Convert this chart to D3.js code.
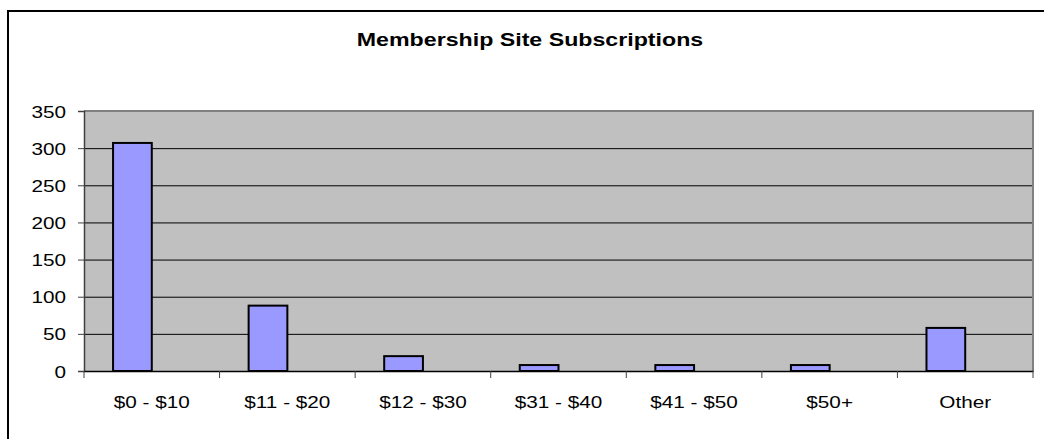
<!DOCTYPE html>
<html>
<head>
<meta charset="utf-8">
<script src="https://cdn.jsdelivr.net/npm/d3@7"></script>
<style>
  body { margin: 0; background: #fff; }
  text { font-family: Arial, "Liberation Sans", sans-serif; fill: #000; }
</style>
</head>
<body>
<div id="chart"></div>
<script>
'use strict'

// data
let categories = ['$0 - $10', '$11 - $20', '$12 - $30', '$31 - $40', '$41 - $50', '$50+', 'Other'];
let seriesNames = ['Subscriptions', 'blank'];
let subscriptions = [307, 88, 20, 8, 8, 8, 58];
let yTicks = [0, 50, 100, 150, 200, 250, 300, 350];
let chartTitle = 'Membership Site Subscriptions';

let W = 1044, H = 439;
let plot = {left: 84, top: 111, right: 1033, bottom: 371};
let sx = 1.22; // the source image is stretched sideways

var svg = d3.select('#chart').append('svg')
    .attr('width', W)
    .attr('height', H);

// outer chart frame, runs off the right and bottom of the picture
svg.append('rect')
    .attr('x', 8).attr('y', 11)
    .attr('width', 1050).attr('height', 440)
    .attr('fill', '#fff')
    .attr('stroke', '#000')
    .attr('stroke-width', 2);

svg.append('text')
    .attr('transform', 'translate(530,46) scale(' + sx + ',1)')
    .attr('text-anchor', 'middle')
    .style('font-size', '19px')
    .style('font-weight', 'bold')
    .text(chartTitle);

var x = d3.scaleBand()
    .domain(categories)
    .range([plot.left, plot.right])
    .padding(0);

// two series per category (second is empty), gap width 150%
var xs = d3.scaleBand()
    .domain(seriesNames)
    .range([0, x.bandwidth()])
    .paddingInner(0)
    .paddingOuter(0.75);

var y = d3.scaleLinear()
    .domain([0, 350])
    .range([plot.bottom, plot.top]);

// plot area
svg.append('rect')
    .attr('x', plot.left).attr('y', plot.top)
    .attr('width', plot.right - plot.left)
    .attr('height', plot.bottom - plot.top)
    .attr('fill', '#c0c0c0');

// gridlines
svg.append('g')
    .selectAll('line')
    .data(yTicks.filter(function(d) { return d > 0 && d < 350; }))
    .enter().append('line')
    .attr('x1', plot.left).attr('x2', plot.right)
    .attr('y1', function(d) { return y(d) + 0.5; })
    .attr('y2', function(d) { return y(d) + 0.5; })
    .attr('stroke', '#000')
    .attr('stroke-width', 1);

// plot border top and right
svg.append('path')
    .attr('d', 'M' + plot.left + ',' + plot.top + 'H' + plot.right + 'V' + plot.bottom)
    .attr('fill', 'none')
    .attr('stroke', '#808080')
    .attr('stroke-width', 2);

// bars
svg.append('g')
    .selectAll('rect')
    .data(subscriptions)
    .enter().append('rect')
    .attr('x', function(d, i) { return x(categories[i]) + xs('Subscriptions'); })
    .attr('y', function(d) { return y(d); })
    .attr('width', xs.bandwidth())
    .attr('height', function(d) { return y(0) - y(d); })
    .attr('fill', '#9999ff')
    .attr('stroke', '#000')
    .attr('stroke-width', 2);

// y axis
var yAxis = svg.append('g')
    .attr('transform', 'translate(' + plot.left + ',0)')
    .call(d3.axisLeft(y).tickValues(yTicks).tickSize(6).tickFormat(d3.format('d')));
yAxis.select('.domain').attr('stroke', '#404040').attr('stroke-width', 1.5);
yAxis.selectAll('.tick line').attr('stroke', '#404040');
yAxis.selectAll('.tick text').remove();
yAxis.selectAll('.tick').append('text')
    .attr('transform', 'translate(-18,0) scale(' + sx + ',1)')
    .attr('dy', '0.36em')
    .attr('text-anchor', 'end')
    .style('font-size', '17px')
    .text(function(d) { return d; });

// x axis
var xAxis = svg.append('g')
    .attr('transform', 'translate(0,' + plot.bottom + ')')
    .call(d3.axisBottom(x).tickSize(0).tickFormat(''));
xAxis.select('.domain').attr('stroke', '#000').attr('stroke-width', 1.5);
xAxis.selectAll('.tick').remove();

// category boundary ticks
svg.append('g')
    .selectAll('line')
    .data(categories.map(function(c) { return x(c); }).concat([plot.right]))
    .enter().append('line')
    .attr('x1', function(d) { return d; }).attr('x2', function(d) { return d; })
    .attr('y1', plot.bottom).attr('y2', plot.bottom + 7)
    .attr('stroke', '#404040')
    .attr('stroke-width', 1);

svg.append('g')
    .selectAll('text')
    .data(categories)
    .enter().append('text')
    .attr('transform', function(d) { return 'translate(' + (x(d) + x.bandwidth() / 2) + ',408) scale(' + sx + ',1)'; })
    .attr('text-anchor', 'middle')
    .style('font-size', '17px')
    .text(function(d) { return d; });
</script>
</body>
</html>
